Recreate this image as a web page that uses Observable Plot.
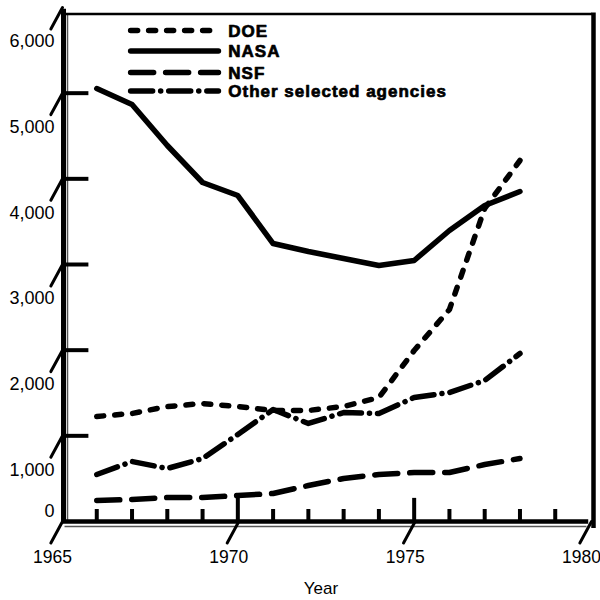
<!DOCTYPE html>
<html>
<head>
<meta charset="utf-8">
<script src="https://cdn.jsdelivr.net/npm/d3@7"></script>
<script src="https://cdn.jsdelivr.net/npm/@observablehq/plot@0.6"></script>
<style>
  html, body { margin: 0; padding: 0; background: #fff; }
  #chart svg { display: block; }
  g[font-weight="bold"] { letter-spacing: 1px; }
</style>
</head>
<body>
<div id="chart"></div>
<script>
// ---- data ----
const years = [1966, 1967, 1968, 1969, 1970, 1971, 1972, 1973, 1974, 1975, 1976, 1977, 1978];
const doe   = [1226, 1261, 1342, 1377, 1342, 1296, 1296, 1342, 1447, 1996, 2475, 3654, 4214];
const nasa  = [5054, 4868, 4389, 3957, 3805, 3245, 3152, 3070, 2988, 3047, 3397, 3689, 3852];
const nsf   = [245, 257, 280, 280, 303, 327, 420, 502, 549, 572, 572, 665, 735];
const other = [549, 700, 619, 735, 1016, 1307, 1144, 1272, 1261, 1447, 1506, 1646, 1961];
const seriesNames = ["DOE", "NASA", "NSF", "Other selected agencies"];
const seriesValues = [doe, nasa, nsf, other];
const yTicks = [0, 1000, 2000, 3000, 4000, 5000, 6000];
const yTickLabels = ["0", "1,000", "2,000", "3,000", "4,000", "5,000", "6,000"];
const xTicks = [1965, 1970, 1975, 1980];
const xTickLabels = ["1965", "1970", "1975", "1980"];
const minorYears = [1966, 1967, 1968, 1969, 1971, 1972, 1973, 1974, 1976, 1977, 1978, 1979];
const majorYears = [1970, 1975];
const xLabel = "Year";

// ---- styles ----
const dashes = ["7,11", null, "23,12", "22,8,0.1,8"];
const legendY = [5732, 5492, 5241, 5025];
const legendX1 = 1966.96, legendX2 = 1969.45, legendTextX = 1969.73;
const LW = 5.5;
const font = "Liberation Sans, Arial, Helvetica, sans-serif";

const marks = [];

// frame / axes
marks.push(Plot.ruleX([1965], {y1: -20, y2: 5980, strokeWidth: 5, dx: 2, stroke: "black"}));
marks.push(Plot.ruleX([1965], {y1: -20, y2: 5925, strokeWidth: 1.5, dx: 6, stroke: "#555"}));
marks.push(Plot.ruleY([5924], {x1: 1965, x2: 1980, strokeWidth: 2.5, dx: 2, stroke: "black"}));
marks.push(Plot.ruleX([1980], {y1: -82, y2: 5935, strokeWidth: 4.5, dx: 3, stroke: "black"}));
marks.push(Plot.ruleY([0], {x1: 1965, x2: 1979.95, strokeWidth: 4.5, stroke: "black"}));
marks.push(Plot.ruleY([0], {x1: 1965.1, x2: 1979.9, strokeWidth: 1.5, dy: 5, stroke: "#555"}));

// y ticks
marks.push(Plot.ruleY(yTicks.slice(1, 6), {x1: 1965, x2: 1965.72, strokeWidth: 4, dx: 2, stroke: "black"}));
// x ticks
marks.push(Plot.ruleX(minorYears, {y1: 0, y2: 140, strokeWidth: 4, stroke: "black"}));
marks.push(Plot.ruleX(majorYears, {y1: 0, y2: 270, strokeWidth: 4, stroke: "black"}));
// slanted tick marks (each a two-point line)
const slantBase = yTicks.slice(1).map(v => ({x: 1965, y: v})).concat(xTicks.map(t => ({x: t, y: 0})));
const slantRows = slantBase.flatMap((p, k) => [
  {k, x: p.x, y: p.y},
  {k, x: p.x - 0.33, y: p.y - 250}
]);
marks.push(Plot.line(slantRows, {x: "x", y: "y", z: "k", stroke: "black", strokeWidth: 3, dx: 1}));

// tick labels
marks.push(Plot.text(yTicks.slice(1), {
  y: d => d, text: (d, i) => yTickLabels[i + 1], frameAnchor: "left",
  dx: -7, dy: 34, textAnchor: "end", fontSize: 18
}));
marks.push(Plot.text([0], {
  y: d => d, text: () => yTickLabels[0], frameAnchor: "left",
  dx: -7, dy: -10, textAnchor: "end", fontSize: 18
}));
marks.push(Plot.text(xTicks, {
  x: d => d, text: (d, i) => xTickLabels[i], frameAnchor: "bottom",
  dy: 41, dx: -9, fontSize: 17.5
}));
marks.push(Plot.text([xLabel], {text: d => d, frameAnchor: "bottom", dy: 72, dx: -5, fontSize: 17}));

// series
seriesNames.forEach((name, s) => {
  const rows = years.map((yr, i) => ({year: yr, value: seriesValues[s][i]}));
  marks.push(Plot.line(rows, {
    x: "year", y: "value", stroke: "black", strokeWidth: LW,
    strokeDasharray: dashes[s] || undefined, strokeLinecap: "round", strokeLinejoin: "round"
  }));
  // legend sample
  const sample = [{x: legendX1, y: legendY[s]}, {x: legendX2, y: legendY[s]}];
  marks.push(Plot.line(sample, {
    x: "x", y: "y",
    stroke: "black", strokeWidth: LW, strokeDasharray: dashes[s] || undefined, strokeLinecap: "round"
  }));
});
marks.push(Plot.text(seriesNames, {
  x: () => legendTextX, y: (d, i) => legendY[i], text: d => d,
  textAnchor: "start", fontWeight: "bold", fontSize: 17, dy: 1,
  fill: "black", stroke: "black", strokeWidth: 0.7
}));

const chart = Plot.plot({
  width: 600,
  height: 600,
  marginLeft: 61,
  marginRight: 10,
  marginTop: 7,
  marginBottom: 79,
  x: {domain: [1965, 1980], axis: null},
  y: {domain: [0, 6000], axis: null},
  style: {fontFamily: font, background: "white", color: "black", overflow: "visible"},
  marks
});
document.getElementById("chart").appendChild(chart);
</script>
</body>
</html>
